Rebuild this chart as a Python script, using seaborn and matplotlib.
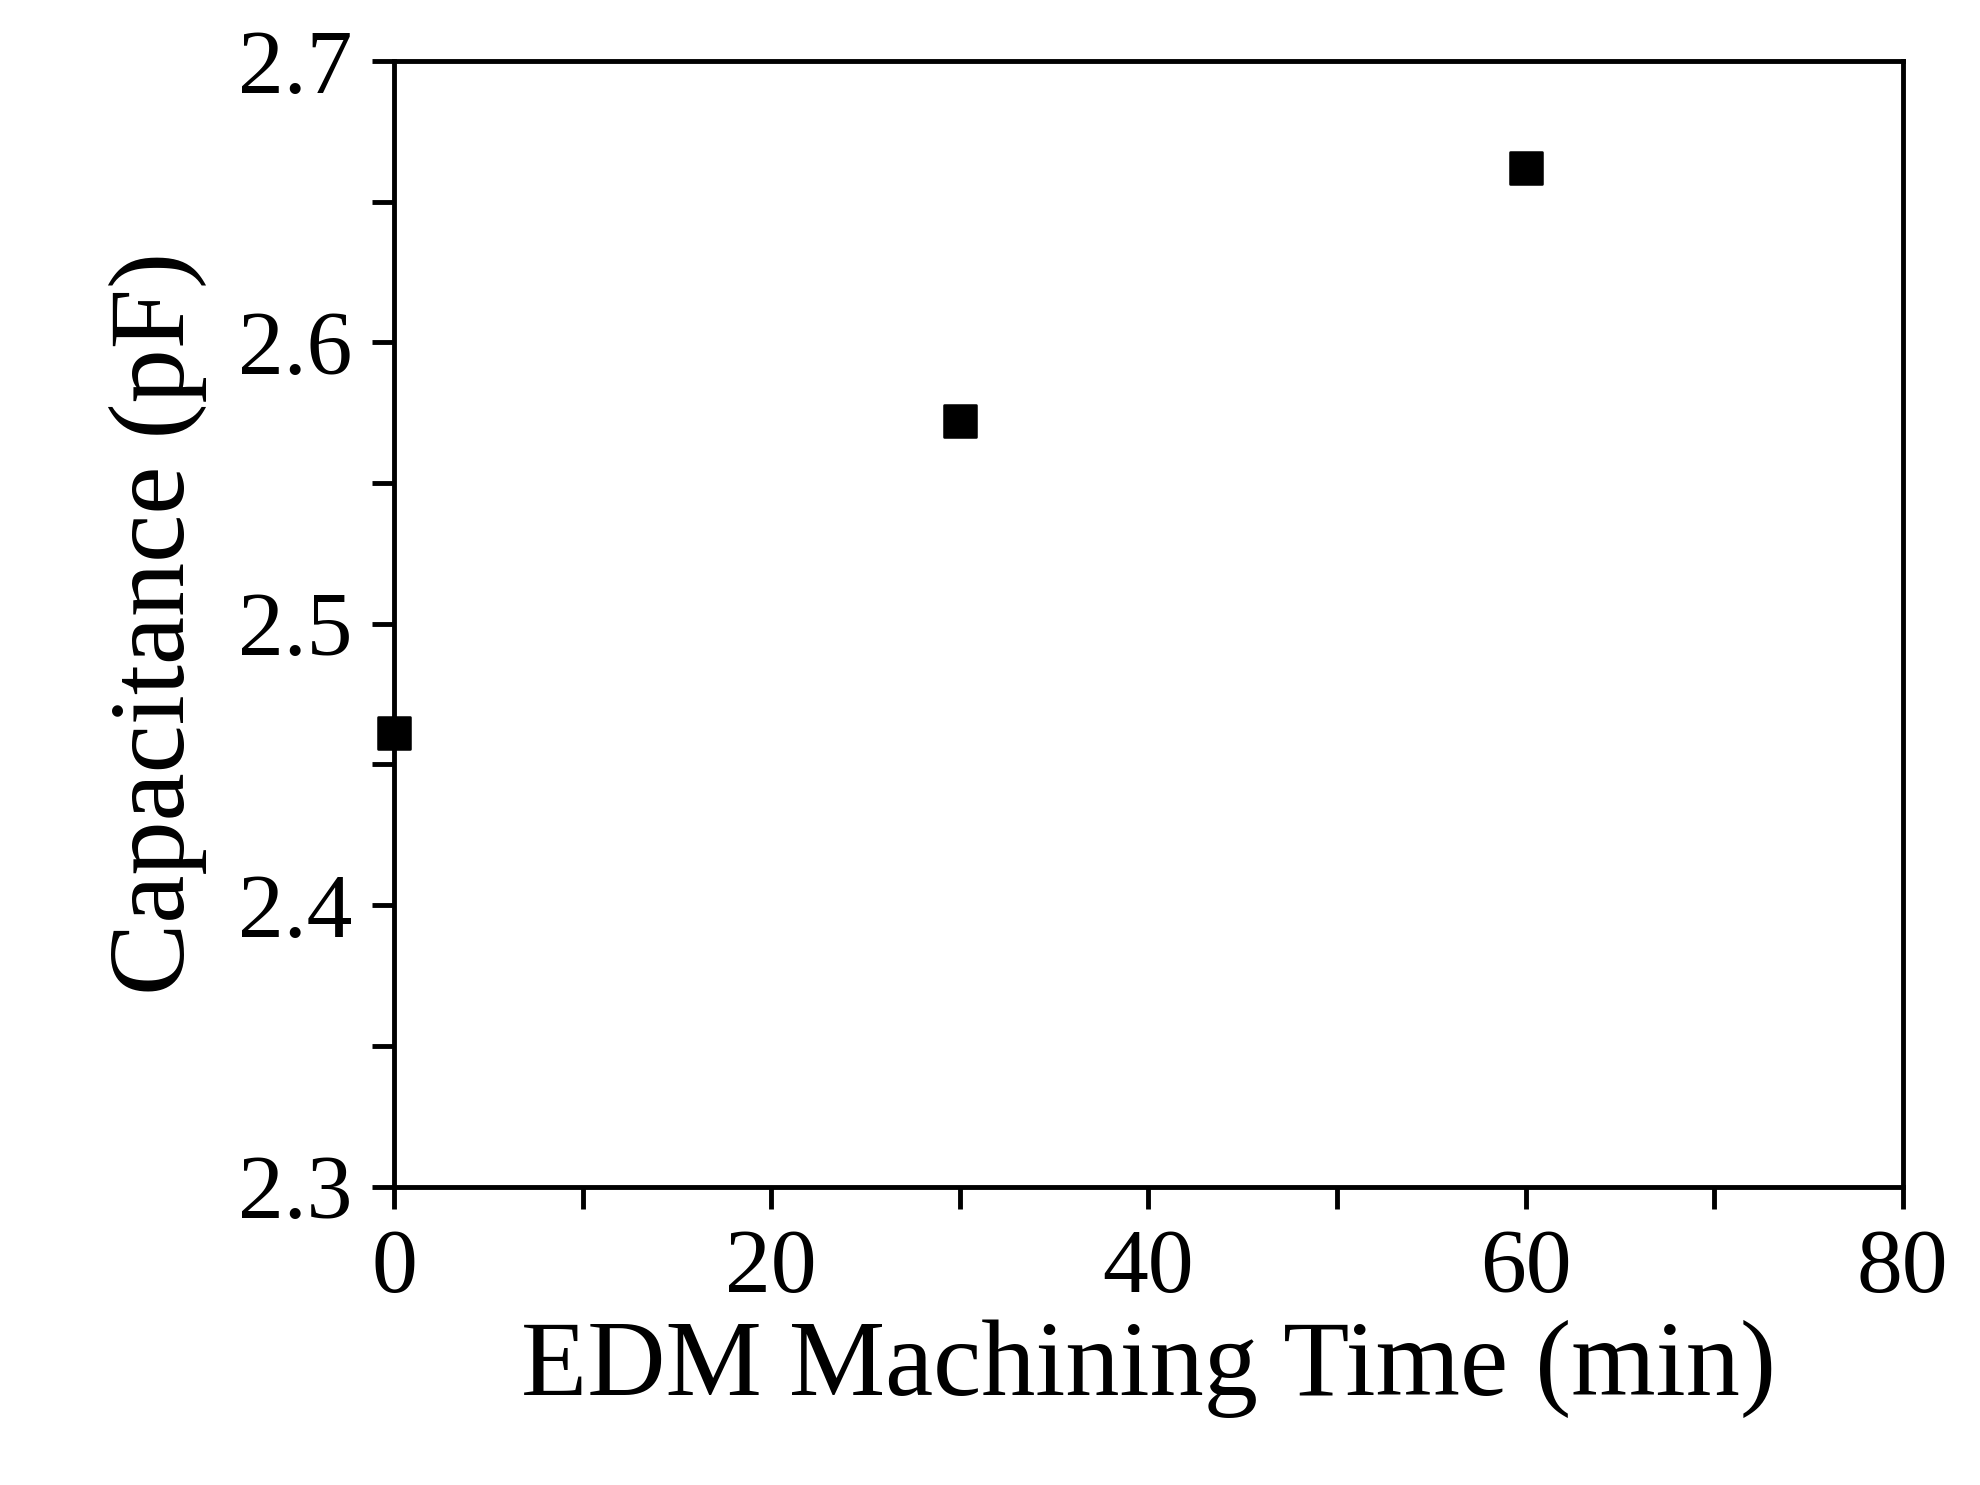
import matplotlib
matplotlib.use("Agg")
import matplotlib.pyplot as plt
import seaborn as sns
import pandas as pd
from matplotlib.ticker import MultipleLocator

time_min = [0, 30, 60]
capacitance_pf = [2.461, 2.572, 2.662]

df = pd.DataFrame({"t": time_min, "c": capacitance_pf})

sns.set_style("ticks")
plt.rcParams['font.family'] = ['Liberation Serif', 'DejaVu Serif']

fig = plt.figure(figsize=(19.8, 14.85), dpi=100)
ax = fig.add_axes([0.199, 0.201, 0.762, 0.758])

sns.scatterplot(data=df, x="t", y="c", ax=ax, marker="s", s=520,
                color="black", edgecolor="black", zorder=5, clip_on=False)

ax.set_xlim(0, 80)
ax.set_ylim(2.3, 2.7)
ax.xaxis.set_major_locator(MultipleLocator(20))
ax.xaxis.set_minor_locator(MultipleLocator(10))
ax.yaxis.set_major_locator(MultipleLocator(0.1))
ax.yaxis.set_minor_locator(MultipleLocator(0.05))
ax.set_yticklabels([f"{v:.1f}" for v in ax.get_yticks()])

for s in ax.spines.values():
    s.set_visible(True)
    s.set_linewidth(3.5)
    s.set_color("black")
ax.tick_params(which="both", direction="out", width=3.5, length=16,
               labelsize=66, colors="black", pad=14)

ax.set_xlabel("EDM Machining Time (min)", fontsize=78, labelpad=6, color="black")
ax.set_ylabel("Capacitance (pF)", fontsize=78, labelpad=22, color="black")

fig.savefig("out.png", dpi=100)
